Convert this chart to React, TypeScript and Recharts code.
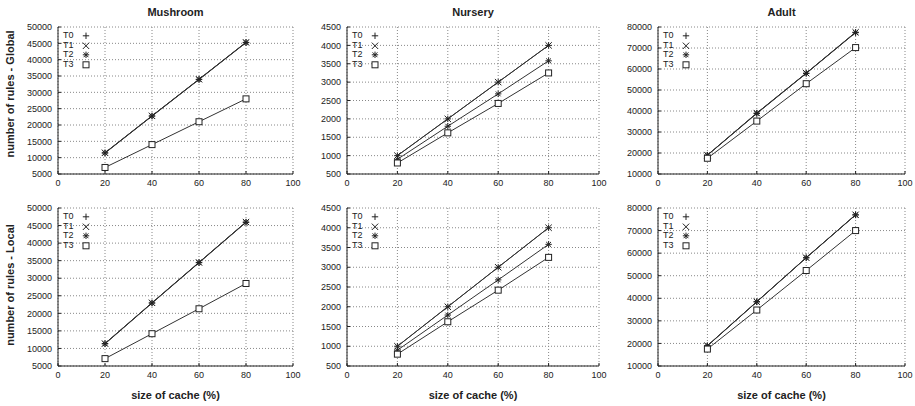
import React from 'react';
import { LineChart, Line, XAxis, YAxis, CartesianGrid, Legend } from 'recharts';

const CACHE_SIZES = [20, 40, 60, 80];
const X_TICKS = [0, 20, 40, 60, 80, 100];
const SERIES = ['T0', 'T1', 'T2', 'T3'];

const MUSHROOM_TICKS = [5000, 10000, 15000, 20000, 25000, 30000, 35000, 40000, 45000, 50000];
const NURSERY_TICKS = [500, 1000, 1500, 2000, 2500, 3000, 3500, 4000, 4500];
const ADULT_TICKS = [10000, 20000, 30000, 40000, 50000, 60000, 70000, 80000];

// Global
const MUSHROOM_G_T0 = [11500, 22800, 34000, 45300];
const MUSHROOM_G_T1 = [11500, 22800, 34000, 45300];
const MUSHROOM_G_T2 = [11400, 22700, 33900, 45200];
const MUSHROOM_G_T3 = [7000, 14000, 21000, 28000];

const NURSERY_G_T0 = [1000, 2000, 3000, 4000];
const NURSERY_G_T1 = [1000, 2000, 3000, 4000];
const NURSERY_G_T2 = [900, 1800, 2680, 3580];
const NURSERY_G_T3 = [800, 1620, 2420, 3250];

const ADULT_G_T0 = [19000, 39000, 58000, 77500];
const ADULT_G_T1 = [19000, 39000, 58000, 77500];
const ADULT_G_T2 = [18900, 38800, 57900, 77300];
const ADULT_G_T3 = [17500, 35200, 53000, 70200];

// Local
const MUSHROOM_L_T0 = [11400, 23000, 34500, 46000];
const MUSHROOM_L_T1 = [11400, 23000, 34500, 46000];
const MUSHROOM_L_T2 = [11300, 22900, 34400, 45900];
const MUSHROOM_L_T3 = [7100, 14200, 21300, 28500];

const NURSERY_L_T0 = [1000, 2000, 3000, 4000];
const NURSERY_L_T1 = [1000, 2000, 3000, 4000];
const NURSERY_L_T2 = [900, 1790, 2680, 3580];
const NURSERY_L_T3 = [800, 1620, 2420, 3250];

const ADULT_L_T0 = [19000, 38500, 58000, 77000];
const ADULT_L_T1 = [19000, 38500, 58000, 77000];
const ADULT_L_T2 = [18900, 38400, 57900, 76900];
const ADULT_L_T3 = [17500, 34800, 52300, 70000];

const build = (t0: number[], t1: number[], t2: number[], t3: number[]) =>
    CACHE_SIZES.map((x, i) => ({ x, T0: t0[i], T1: t1[i], T2: t2[i], T3: t3[i] }));

const FONT = '"Liberation Sans", Arial, sans-serif';
const INK = '#222';

function Marker({ cx, cy, shape }: { cx: number; cy: number; shape: string }) {
    const r = 3.2;
    const s = { stroke: INK, strokeWidth: 1, fill: 'none' };
    if (shape === 'T0') {
        return (
            <g>
                <line x1={cx - r} y1={cy} x2={cx + r} y2={cy} {...s} />
                <line x1={cx} y1={cy - r} x2={cx} y2={cy + r} {...s} />
            </g>
        );
    }
    if (shape === 'T1') {
        return (
            <g>
                <line x1={cx - r} y1={cy - r} x2={cx + r} y2={cy + r} {...s} />
                <line x1={cx - r} y1={cy + r} x2={cx + r} y2={cy - r} {...s} />
            </g>
        );
    }
    if (shape === 'T2') {
        return (
            <g>
                <line x1={cx - r} y1={cy} x2={cx + r} y2={cy} {...s} />
                <line x1={cx} y1={cy - r} x2={cx} y2={cy + r} {...s} />
                <line x1={cx - 2.4} y1={cy - 2.4} x2={cx + 2.4} y2={cy + 2.4} {...s} />
                <line x1={cx - 2.4} y1={cy + 2.4} x2={cx + 2.4} y2={cy - 2.4} {...s} />
            </g>
        );
    }
    return <rect x={cx - 3} y={cy - 3} width={6} height={6} fill="#fff" stroke={INK} strokeWidth={1} />;
}

function LegendBox() {
    return (
        <div style={{ fontFamily: FONT, fontSize: 9, color: INK }}>
            {SERIES.map((s) => (
                <div key={s} style={{ display: 'flex', alignItems: 'center', height: 9.6 }}>
                    <span style={{ width: 16, lineHeight: '9.6px' }}>{s}</span>
                    <svg width={14} height={9.6}>
                        <Marker cx={7} cy={4.8} shape={s} />
                    </svg>
                </div>
            ))}
        </div>
    );
}

type PanelProps = {
    left: number;
    top: number;
    plotW: number;
    plotH: number;
    yW: number;
    data: ReturnType<typeof build>;
    ticks: number[];
};

function Panel({ left, top, plotW, plotH, yW, data, ticks }: PanelProps) {
    const padT = 8;
    const padR = 12;
    const xH = 20;
    const domain = [ticks[0], ticks[ticks.length - 1]];
    const tickStyle = { fontSize: 9, fill: INK, fontFamily: FONT };
    return (
        <div style={{ position: 'absolute', left: left - yW, top: top - padT }}>
            <LineChart
                width={yW + plotW + padR}
                height={padT + plotH + xH}
                data={data}
                margin={{ top: padT, right: padR, left: 0, bottom: 0 }}
            >
                <CartesianGrid stroke="#888" strokeDasharray="1 2" />
                <XAxis
                    dataKey="x"
                    type="number"
                    domain={[0, 100]}
                    ticks={X_TICKS}
                    interval={0}
                    height={xH}
                    tickSize={-3}
                    tickMargin={9}
                    stroke={INK}
                    tick={tickStyle}
                />
                <XAxis
                    xAxisId="top"
                    dataKey="x"
                    orientation="top"
                    type="number"
                    domain={[0, 100]}
                    ticks={X_TICKS}
                    height={0}
                    tickSize={-3}
                    tick={false}
                    stroke={INK}
                />
                <YAxis
                    type="number"
                    domain={domain}
                    ticks={ticks}
                    interval={0}
                    width={yW}
                    tickSize={-3}
                    tickMargin={9}
                    stroke={INK}
                    tick={tickStyle}
                />
                <YAxis
                    yAxisId="right"
                    orientation="right"
                    type="number"
                    domain={domain}
                    ticks={ticks}
                    width={0}
                    tickSize={-3}
                    tick={false}
                    stroke={INK}
                />
                <Legend
                    layout="vertical"
                    align="center"
                    verticalAlign="middle"
                    wrapperStyle={{ left: yW + 5, top: padT + 4, width: 'auto', height: 'auto' }}
                    content={() => <LegendBox />}
                />
                {SERIES.map((s) => (
                    <Line
                        key={s}
                        dataKey={s}
                        stroke="#333"
                        strokeWidth={1}
                        isAnimationActive={false}
                        dot={(p: any) => <Marker key={`${s}-${p.index}`} cx={p.cx} cy={p.cy} shape={s} />}
                    />
                ))}
            </LineChart>
        </div>
    );
}

const boldText: React.CSSProperties = {
    position: 'absolute',
    fontFamily: FONT,
    fontWeight: 'bold',
    fontSize: 11,
    color: INK,
    textAlign: 'center',
    width: 200,
    height: 14,
    lineHeight: '14px',
    whiteSpace: 'nowrap',
};

const COLS = [
    { left: 58, plotW: 235, title: 'Mushroom' },
    { left: 347, plotW: 252, title: 'Nursery' },
    { left: 658, plotW: 247, title: 'Adult' },
];

export default function App() {
    return (
        <div style={{ position: 'absolute', left: 0, top: 0, width: 915, height: 406, background: '#fff', overflow: 'hidden' }}>
            {COLS.map((c) => (
                <div key={c.title} style={{ ...boldText, left: c.left + c.plotW / 2 - 100, top: 5 }}>
                    {c.title}
                </div>
            ))}
            {COLS.map((c) => (
                <div key={c.title + 'x'} style={{ ...boldText, left: c.left + c.plotW / 2 - 100, top: 388 }}>
                    size of cache (%)
                </div>
            ))}
            <div style={{ ...boldText, left: 10 - 100, top: 94 - 7, transform: 'rotate(-90deg)' }}>
                number of rules - Global
            </div>
            <div style={{ ...boldText, left: 10 - 100, top: 285 - 7, transform: 'rotate(-90deg)' }}>
                number of rules - Local
            </div>

            <Panel left={58} top={27} plotW={235} plotH={147} yW={58} ticks={MUSHROOM_TICKS}
                data={build(MUSHROOM_G_T0, MUSHROOM_G_T1, MUSHROOM_G_T2, MUSHROOM_G_T3)} />
            <Panel left={347} top={27} plotW={252} plotH={147} yW={45} ticks={NURSERY_TICKS}
                data={build(NURSERY_G_T0, NURSERY_G_T1, NURSERY_G_T2, NURSERY_G_T3)} />
            <Panel left={658} top={27} plotW={247} plotH={147} yW={48} ticks={ADULT_TICKS}
                data={build(ADULT_G_T0, ADULT_G_T1, ADULT_G_T2, ADULT_G_T3)} />

            <Panel left={58} top={208} plotW={235} plotH={158} yW={58} ticks={MUSHROOM_TICKS}
                data={build(MUSHROOM_L_T0, MUSHROOM_L_T1, MUSHROOM_L_T2, MUSHROOM_L_T3)} />
            <Panel left={347} top={208} plotW={252} plotH={158} yW={45} ticks={NURSERY_TICKS}
                data={build(NURSERY_L_T0, NURSERY_L_T1, NURSERY_L_T2, NURSERY_L_T3)} />
            <Panel left={658} top={208} plotW={247} plotH={158} yW={48} ticks={ADULT_TICKS}
                data={build(ADULT_L_T0, ADULT_L_T1, ADULT_L_T2, ADULT_L_T3)} />
        </div>
    );
}
